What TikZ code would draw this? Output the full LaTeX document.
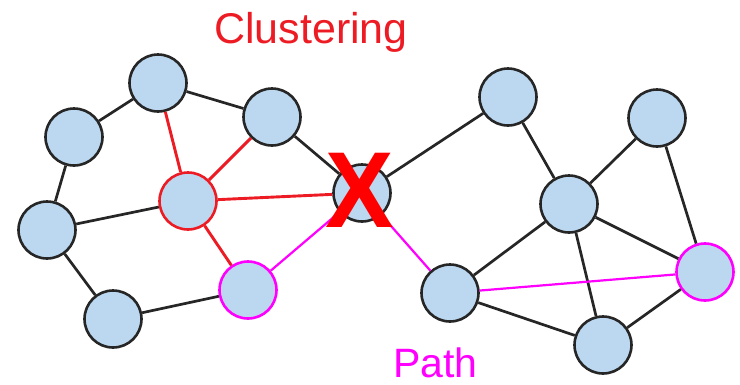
\documentclass[tikz,border=0pt]{standalone}
\usepackage{fontspec}
\setmainfont{Liberation Sans}
\definecolor{nodefill}{RGB}{187,216,240}
\definecolor{clusterred}{RGB}{237,28,36}
\definecolor{pathmag}{RGB}{255,0,255}
\begin{document}
\begin{tikzpicture}[x=1pt,y=-1pt,
  vertex/.style={circle,draw=black!85,line width=2.6pt,fill=nodefill,minimum size=57pt,inner sep=0pt},
  edge/.style={draw=black!85,line width=2.7pt},
  redge/.style={draw=clusterred,line width=2.9pt},
  medge/.style={draw=pathmag,line width=2.2pt}]
\useasboundingbox (0,0) rectangle (740,384);
% left cluster
\node[vertex] (A) at (158,83) {};
\node[vertex] (B) at (74,137) {};
\node[vertex] (C) at (272,117) {};
\node[vertex,draw=clusterred] (D) at (188,201) {};
\node[vertex] (E) at (47,230) {};
\node[vertex] (F) at (113,319) {};
\node[vertex,draw=pathmag] (G) at (248,290) {};
% bridge vertex
\node[vertex] (H) at (362,193) {};
% right cluster
\node[vertex] (I) at (508,97) {};
\node[vertex] (J) at (657,118) {};
\node[vertex] (K) at (569,204) {};
\node[vertex] (L) at (450,293) {};
\node[vertex,draw=pathmag] (M) at (705,272) {};
\node[vertex] (N) at (603,345) {};
% edges, ending on the vertex borders
\path[edge] (A) -- (B);
\path[edge] (A) -- (C);
\path[edge] (B) -- (E);
\path[edge] (E) -- (D);
\path[edge] (E) -- (F);
\path[edge] (F) -- (G);
\path[edge] (C) -- (H);
\path[edge] (H) -- (I);
\path[edge] (I) -- (K);
\path[edge] (J) -- (K);
\path[edge] (J) -- (M);
\path[edge] (K) -- (L);
\path[edge] (K) -- (M);
\path[edge] (K) -- (N);
\path[edge] (L) -- (N);
\path[edge] (N) -- (M);
\path[redge] (A) -- (D);
\path[redge] (C) -- (D);
\path[redge] (D) -- (H);
\path[redge] (D) -- (G);
\path[medge] (G) -- (H);
\path[medge] (H) -- (L);
\path[medge] (L) -- (M);
% cross over the bridge vertex
\node[text=red,font=\bfseries\fontsize{108}{108}\selectfont,inner sep=0pt,xscale=0.95] (X) at (360,190) {X};
% labels
\node[text=clusterred,font=\fontsize{43}{43}\selectfont,anchor=base west,inner sep=0pt] (clab) at (214,43) {Clustering};
\node[text=pathmag,font=\fontsize{41}{41}\selectfont,anchor=base west,inner sep=0pt] (plab) at (393,377) {Path};
\end{tikzpicture}
\end{document}
